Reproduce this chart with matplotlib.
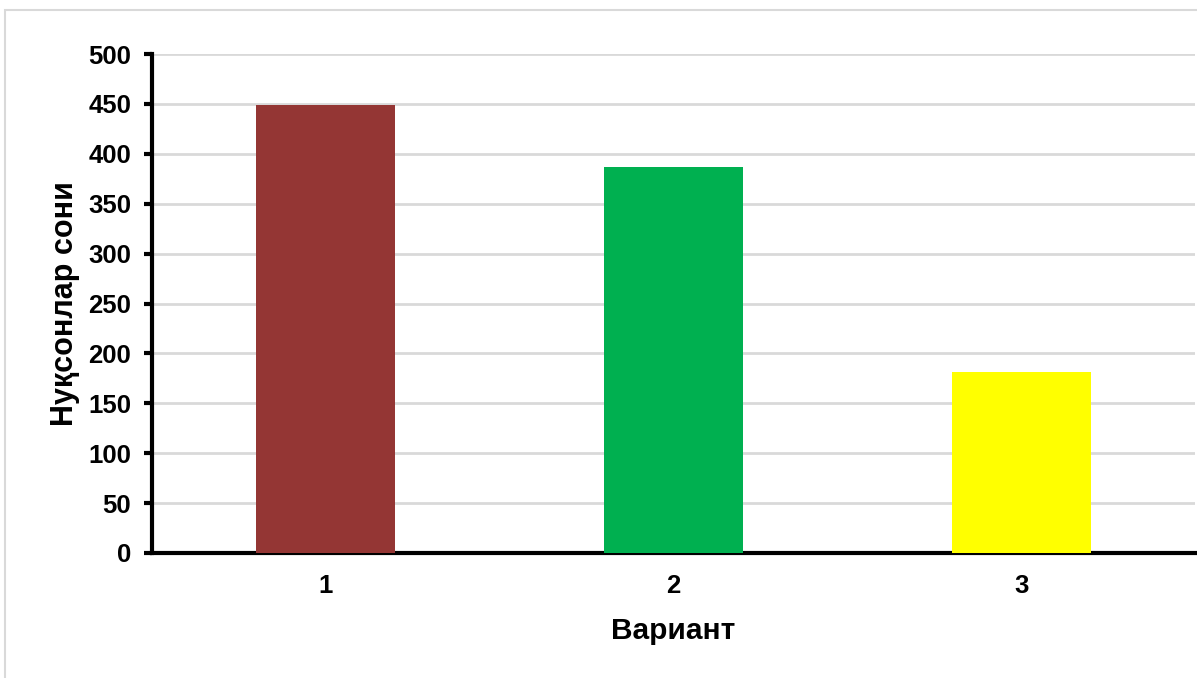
import matplotlib.pyplot as plt
from matplotlib.patches import Rectangle

plt.rcParams['font.family'] = ['Liberation Sans', 'DejaVu Sans']
plt.rcParams['font.weight'] = 'bold'

categories = ['1', '2', '3']
values = [449, 387, 181]
colors = ['#943634', '#00B050', '#FFFF00']
yticks = [0, 50, 100, 150, 200, 250, 300, 350, 400, 450, 500]

fig = plt.figure(figsize=(11.97, 6.78), dpi=100)
ax = fig.add_axes([152 / 1197, 1 - 553 / 678, (1195 - 152) / 1197, (553 - 54) / 678])

# light frame around the whole chart area
fig.patches.append(Rectangle((5 / 1197, -0.1), 1.2, 1.1 - 10 / 678, transform=fig.transFigure,
                             fill=False, edgecolor='#d9d9d9', linewidth=1.5))

x = list(range(1, len(categories) + 1))
ax.bar(x, values, width=0.4, color=colors, zorder=3)

ax.set_xlim(0.5, 3.5)
ax.set_ylim(0, 500)
ax.set_yticks(yticks)
ax.set_xticks(x)
ax.set_xticklabels(categories)
ax.yaxis.grid(True, color='#d9d9d9', linewidth=2, zorder=0)
ax.set_axisbelow(True)

for s in ['top', 'right']:
    ax.spines[s].set_visible(False)
for s in ['left', 'bottom']:
    ax.spines[s].set_linewidth(3)
    ax.spines[s].set_color('black')

ax.tick_params(axis='y', length=6, width=3, labelsize=18.5, pad=9)
ax.tick_params(axis='x', length=0, labelsize=18.5, pad=15)

ax.set_xlabel('Вариант', fontsize=21.5, fontweight='bold', labelpad=14)
ax.set_ylabel('Нуқсонлар сони', fontsize=22, fontweight='bold', labelpad=6)

fig.savefig('out.png', dpi=100)
